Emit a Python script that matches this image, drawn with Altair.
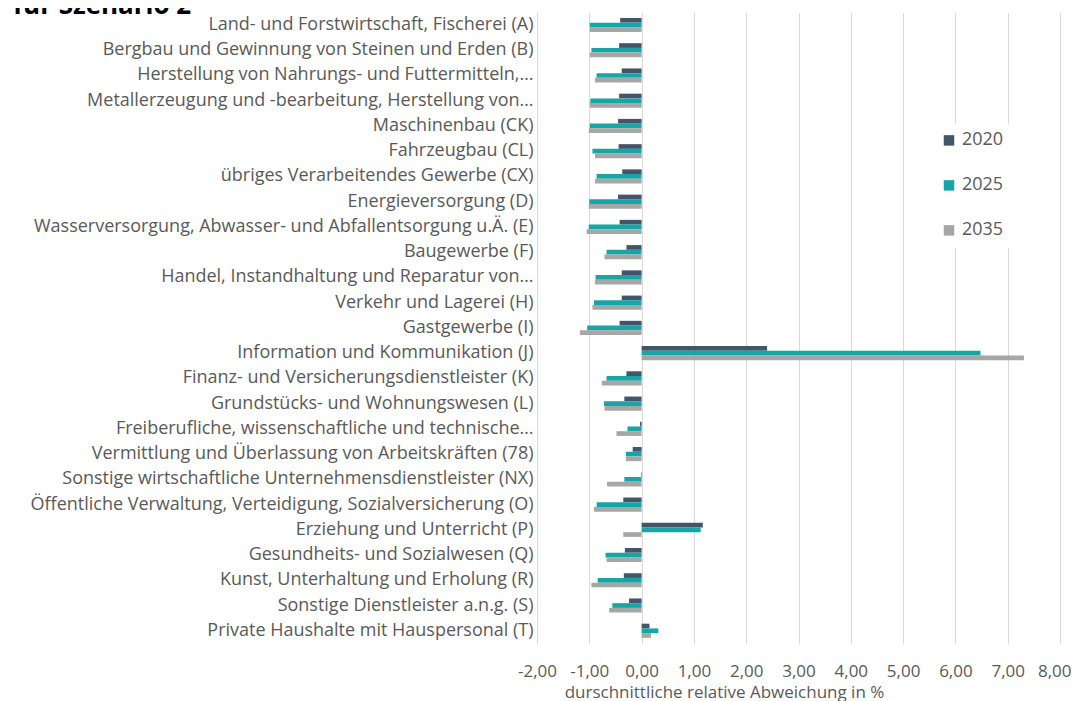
import altair as alt
import pandas as pd

categories = [
    "Land- und Forstwirtschaft, Fischerei (A)",
    "Bergbau und Gewinnung von Steinen und Erden (B)",
    "Herstellung von Nahrungs- und Futtermitteln,…",
    "Metallerzeugung und -bearbeitung, Herstellung von…",
    "Maschinenbau (CK)",
    "Fahrzeugbau (CL)",
    "übriges Verarbeitendes Gewerbe (CX)",
    "Energieversorgung (D)",
    "Wasserversorgung, Abwasser- und Abfallentsorgung u.Ä. (E)",
    "Baugewerbe (F)",
    "Handel, Instandhaltung und Reparatur von…",
    "Verkehr und Lagerei (H)",
    "Gastgewerbe (I)",
    "Information und Kommunikation (J)",
    "Finanz- und Versicherungsdienstleister (K)",
    "Grundstücks- und Wohnungswesen (L)",
    "Freiberufliche, wissenschaftliche und technische…",
    "Vermittlung und Überlassung von Arbeitskräften (78)",
    "Sonstige wirtschaftliche Unternehmensdienstleister (NX)",
    "Öffentliche Verwaltung, Verteidigung, Sozialversicherung (O)",
    "Erziehung und Unterricht (P)",
    "Gesundheits- und Sozialwesen (Q)",
    "Kunst, Unterhaltung und Erholung (R)",
    "Sonstige Dienstleister a.n.g. (S)",
    "Private Haushalte mit Hauspersonal (T)",
]

v2020 = [-0.41, -0.43, -0.38, -0.43, -0.45, -0.44, -0.37, -0.45, -0.42, -0.29,
         -0.38, -0.38, -0.42, 2.40, -0.29, -0.33, -0.03, -0.17, -0.01, -0.35,
         1.17, -0.32, -0.34, -0.24, 0.15]
v2025 = [-0.99, -0.96, -0.86, -0.98, -0.99, -0.94, -0.86, -1.00, -1.01, -0.67,
         -0.88, -0.91, -1.04, 6.48, -0.67, -0.72, -0.27, -0.30, -0.33, -0.86,
         1.13, -0.69, -0.84, -0.56, 0.32]
v2035 = [-0.99, -0.99, -0.89, -0.99, -1.01, -0.89, -0.89, -1.01, -1.05, -0.71,
         -0.89, -0.94, -1.18, 7.31, -0.76, -0.71, -0.48, -0.30, -0.66, -0.91,
         -0.35, -0.67, -0.96, -0.62, 0.18]

series = ["2020", "2025", "2035"]
colors = ["#44546a", "#17a6a6", "#a6a6a6"]
x_ticks = [-2, -1, 0, 1, 2, 3, 4, 5, 6, 7, 8]

rows = []
for i, c in enumerate(categories):
    for s, vals in zip(series, [v2020, v2025, v2035]):
        rows.append({"Kategorie": c, "Jahr": s, "Wert": vals[i]})
df = pd.DataFrame(rows)

FONT = "Open Sans"
GREY = "#595959"

bars = alt.Chart(df).mark_bar().encode(
    y=alt.Y("Kategorie:N", sort=categories,
            scale=alt.Scale(paddingInner=0.44, paddingOuter=0.22),
            axis=alt.Axis(title=None, ticks=False, domain=False, labelLimit=0,
                          labelFontSize=18, labelColor=GREY, labelFont=FONT,
                          labelPadding=4, grid=False)),
    yOffset=alt.YOffset("Jahr:N", sort=series, scale=alt.Scale(paddingInner=0, paddingOuter=0)),
    x=alt.X("Wert:Q", scale=alt.Scale(domain=[-2, 8], nice=False),
            axis=alt.Axis(values=x_ticks, title="durschnittliche relative Abweichung in %",
                          labelExpr="replace(replace(format(datum.value, '.2f'), '.', ','), '\u2212', '-')",
                          labelOverlap=False, labelFlush=False,
                          labelAlign={"condition": {"test": "datum.value == 8", "value": "right"}, "value": "center"},
                          labelOffset={"condition": {"test": "datum.value == 8", "value": 11}, "value": 0},
                          ticks=False, domain=False, grid=True, gridColor="#d9d9d9",
                          labelFontSize=17, labelColor=GREY, labelFont=FONT, labelPadding=20,
                          titleFontSize=17, titleColor=GREY, titleFont=FONT, titleFontWeight="normal",
                          titleX=187, titleY=54, titleAlign="center", titleBaseline="alphabetic")),
    color=alt.Color("Jahr:N", sort=series, scale=alt.Scale(domain=series, range=colors),
                    legend=alt.Legend(title=None, orient="none", legendX=395, legendY=111,
                                      symbolType="square", symbolSize=110, symbolStrokeWidth=0,
                                      labelFontSize=18, labelColor=GREY, labelFont=FONT,
                                      rowPadding=27, labelOffset=4, fillColor="white", padding=8)),
)

title = alt.Chart(pd.DataFrame({"t": ["für Szenario 2"]})).mark_text(
    align="left", baseline="alphabetic", fontSize=26, fontWeight="bold", font=FONT, color="#000000"
).encode(text="t:N", x=alt.value(-524), y=alt.value(1.6))

chart = alt.layer(bars, title).properties(
    width=523, height=631,
    autosize=alt.AutoSizeParams(type="none"),
    padding={"left": 529, "top": 4.4, "right": 11, "bottom": 58},
).configure_view(stroke=None)

chart.save("out.html", embed_options={"renderer": "svg", "actions": False})
